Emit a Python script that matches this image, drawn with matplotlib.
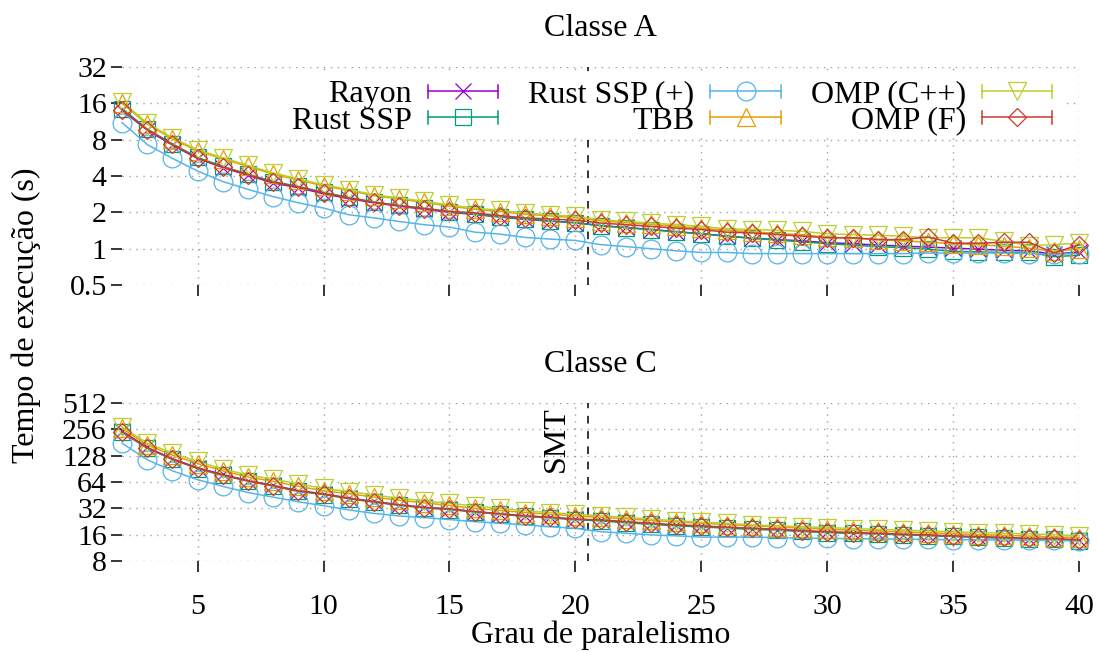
import numpy as np
import matplotlib
matplotlib.use('Agg')
import matplotlib.pyplot as plt
from matplotlib.lines import Line2D
from matplotlib.patches import Rectangle
from matplotlib.legend_handler import HandlerLine2D
from matplotlib.ticker import FixedLocator, NullLocator

plt.rcParams['font.family'] = ['Liberation Serif', 'DejaVu Serif']
plt.rcParams['font.size'] = 23

# grau de paralelismo
threads = list(range(2, 41))

series = ['Rayon', 'Rust SSP', 'Rust SSP (+)', 'TBB', 'OMP (C++)', 'OMP (F)']
colors = ['#9400d3', '#009e73', '#56b4e9', '#e69f00', '#bccf2f', '#c83c30']
markers = ['x', 's', 'o', '^', 'v', 'D']
msizes = [11.5, 11.5, 13.5, 13, 13, 8.8]

# Classe A (s)
a_rayon = [14.0, 9.6, 7.2, 5.6, 4.7, 4.05, 3.5, 3.2, 2.85, 2.6, 2.4, 2.25, 2.12,
           2.0, 1.92, 1.83, 1.75, 1.69, 1.64, 1.55, 1.50, 1.44, 1.38, 1.33, 1.27, 1.22,
           1.19, 1.16, 1.12, 1.10, 1.07, 1.05, 1.03, 1.01, 0.99, 0.97, 0.96, 0.90, 0.94]
a_rustssp = [14.5, 9.8, 7.4, 5.7, 4.8, 4.15, 3.6, 3.28, 2.93, 2.66, 2.44, 2.28, 2.16,
             2.02, 1.93, 1.84, 1.76, 1.70, 1.64, 1.55, 1.49, 1.44, 1.38, 1.33, 1.27, 1.22,
             1.18, 1.14, 1.10, 1.07, 1.04, 1.02, 0.99, 0.95, 0.94, 0.93, 0.93, 0.86, 0.88]
a_rustssp_p = [11.1, 7.3, 5.6, 4.4, 3.6, 3.1, 2.7, 2.4, 2.17, 1.91, 1.80, 1.68, 1.58,
               1.51, 1.37, 1.32, 1.24, 1.20, 1.17, 1.08, 1.04, 1.0, 0.96, 0.93, 0.93, 0.91,
               0.91, 0.91, 0.91, 0.91, 0.91, 0.91, 0.92, 0.92, 0.92, 0.92, 0.91, 0.90, 0.91]
a_tbb = [16.0, 10.8, 8.1, 6.45, 5.55, 4.8, 4.15, 3.7, 3.32, 3.03, 2.75, 2.58, 2.42,
         2.25, 2.12, 2.03, 1.93, 1.87, 1.80, 1.70, 1.64, 1.59, 1.53, 1.48, 1.42, 1.38,
         1.34, 1.30, 1.25, 1.22, 1.19, 1.16, 1.13, 1.10, 1.08, 1.05, 1.01, 0.95, 1.0]
a_omp_cpp = [16.5, 11.0, 8.3, 6.6, 5.66, 4.9, 4.25, 3.78, 3.39, 3.09, 2.8, 2.63, 2.47,
             2.3, 2.17, 2.08, 1.97, 1.91, 1.85, 1.74, 1.68, 1.63, 1.58, 1.53, 1.46, 1.44,
             1.42, 1.39, 1.33, 1.31, 1.29, 1.27, 1.23, 1.23, 1.23, 1.15, 1.06, 1.08, 1.11]
a_omp_f = [14.2, 9.7, 7.3, 5.6, 4.76, 4.1, 3.55, 3.25, 2.9, 2.63, 2.42, 2.27, 2.15,
           2.04, 1.98, 1.88, 1.80, 1.76, 1.72, 1.63, 1.58, 1.53, 1.48, 1.44, 1.37, 1.35,
           1.31, 1.27, 1.23, 1.23, 1.19, 1.19, 1.25, 1.11, 1.11, 1.13, 1.13, 0.92, 1.08]

# Classe C (s)
c_rayon = [245, 159, 118, 93, 78, 66.5, 58.5, 51, 46.8, 42, 38.3, 35.2, 32.8,
           31.5, 29.4, 27.7, 26.2, 25.2, 24.0, 23.4, 22.3, 21.4, 20.5, 20.0, 19.3, 18.7,
           18.3, 17.6, 17.1, 16.7, 16.4, 16.0, 15.7, 15.3, 15.0, 14.7, 14.4, 14.3, 13.8]
c_rustssp = [236, 156, 116, 91, 76, 65.5, 57.5, 50, 46, 41.3, 37.6, 34.7, 32.3,
             31.0, 29.0, 27.4, 25.9, 24.9, 23.7, 23.0, 21.9, 21.0, 20.2, 19.6, 19.0, 18.4,
             18.0, 17.4, 16.9, 16.6, 16.3, 15.9, 15.6, 15.3, 15.0, 14.6, 14.3, 14.2, 13.6]
c_rustssp_p = [178, 115, 86, 68, 57, 48.5, 43, 38, 34.3, 30.7, 28, 26.2, 25.0,
               23.8, 22.5, 21.6, 20.7, 19.7, 18.9, 17.3, 16.6, 15.9, 15.5, 15.0, 15.0, 15.0,
               14.8, 14.6, 14.5, 14.4, 14.3, 14.2, 14.1, 14.0, 14.0, 13.9, 13.8, 13.8, 13.5]
c_tbb = [262, 170, 130, 104, 86, 73, 65, 57, 51, 47, 43, 39.5, 37,
         34.5, 32, 30.3, 28.6, 27.4, 26.2, 25.3, 24.3, 23.3, 22.4, 21.6, 20.9, 20.2,
         19.6, 19.0, 18.5, 18.0, 17.6, 17.2, 16.8, 16.4, 16.0, 15.7, 15.4, 15.1, 14.8]
c_omp_cpp = [274, 178, 137, 110, 90, 77, 69, 61, 54, 49.8, 45.5, 41.7, 39,
             36.5, 34, 32, 30, 28.6, 27.4, 26.2, 25.3, 24.1, 23.1, 22.2, 21.6, 20.7,
             20.2, 19.7, 19.3, 18.8, 18.4, 18.0, 17.6, 17.2, 16.9, 16.6, 16.3, 16.0, 15.5]
c_omp_f = [241, 157, 117, 92, 77, 66, 58, 50.5, 46.5, 41.7, 38, 35, 32.6,
           31.4, 29.3, 27.7, 26.2, 25.3, 24.1, 23.6, 22.5, 21.6, 20.7, 20.2, 19.5, 18.9,
           18.5, 17.8, 17.3, 16.9, 16.6, 16.2, 15.9, 15.5, 15.2, 14.9, 14.5, 14.5, 13.9]

data_a = [a_rayon, a_rustssp, a_rustssp_p, a_tbb, a_omp_cpp, a_omp_f]
data_c = [c_rayon, c_rustssp, c_rustssp_p, c_tbb, c_omp_cpp, c_omp_f]

yticks_a = [0.5, 1, 2, 4, 8, 16, 32]
yticks_c = [8, 16, 32, 64, 128, 256, 512]
xticks = [5, 10, 15, 20, 25, 30, 35, 40]
smt = 20.5


class CapHandler(HandlerLine2D):
    # amostra estilo gnuplot |--o--|
    def create_artists(self, legend, orig_handle, xdescent, ydescent,
                       width, height, fontsize, trans):
        arts = super().create_artists(legend, orig_handle, xdescent, ydescent,
                                      width, height, fontsize, trans)
        y = height / 2 - ydescent
        h = height * 0.3
        for x in (-xdescent, width - xdescent):
            cap = Line2D([x, x], [y - h, y + h], color=orig_handle.get_color(),
                         lw=orig_handle.get_linewidth())
            cap.set_transform(trans)
            arts.append(cap)
        return arts


fig = plt.figure(figsize=(10.99, 6.52), dpi=100)
ax1 = fig.add_axes([0.111, 0.5629, 0.871, 0.3343])
ax2 = fig.add_axes([0.111, 0.1396, 0.871, 0.2423])

handles = []
for ax, data, yt, title in [(ax1, data_a, yticks_a, 'Classe A'),
                            (ax2, data_c, yticks_c, 'Classe C')]:
    for name, vals, c, m, ms in zip(series, data, colors, markers, msizes):
        ln, = ax.plot(threads, vals, color=c, marker=m, markersize=ms,
                      markerfacecolor='none', markeredgewidth=0.9, lw=1.1,
                      label=name, clip_on=False, zorder=3)
        if ax is ax1:
            handles.append(ln)
    ax.set_yscale('log', base=2)
    ax.set_ylim(yt[0], yt[-1])
    ax.set_xlim(2, 40)
    ax.yaxis.set_major_locator(FixedLocator(yt))
    ax.yaxis.set_minor_locator(NullLocator())
    ax.set_yticklabels([f'{v:g}' for v in yt])
    ax.set_xticks(xticks)
    ax.xaxis.set_minor_locator(NullLocator())
    for s in ax.spines.values():
        s.set_visible(False)
    ax.set_axisbelow(True)
    ax.grid(True, color='#a0a0a0', linestyle=(0, (1, 4)), lw=1.0)
    ax.tick_params(direction='out', length=8, width=1.1, color='black', labelsize=21.5)
    ax.tick_params(axis='y', pad=3)
    ax.tick_params(axis='x', pad=16)
    ax.axvline(smt, color='black', lw=1.1, linestyle=(0, (5, 5)), zorder=2)
    ax.set_title(title, pad=22, fontsize=23)

ax1.tick_params(axis='x', labelbottom=False)
ax2.set_xlabel('Grau de paralelismo', labelpad=0)
ax2.text(19.8, 200, 'SMT', rotation=90, ha='right', va='center')

fig.text(0.024, 0.517, 'Tempo de execução (s)', rotation=90, ha='center', va='center')

# caixa opaca da legenda (como no gnuplot)
ax1.add_patch(Rectangle((0.116, 0.674), 0.869, 0.303, transform=ax1.transAxes,
                        facecolor='white', edgecolor='none', zorder=2.5))
leg = ax1.legend(handles=handles, ncol=3, loc='upper right', bbox_to_anchor=(0.972, 0.94),
                 frameon=False, markerfirst=False, numpoints=1, handlelength=2.2,
                 handletextpad=0.5, columnspacing=0.95, labelspacing=-0.1,
                 borderpad=0, borderaxespad=0,
                 handler_map={Line2D: CapHandler()})
leg.set_zorder(4)

fig.savefig('out.png', dpi=100)
